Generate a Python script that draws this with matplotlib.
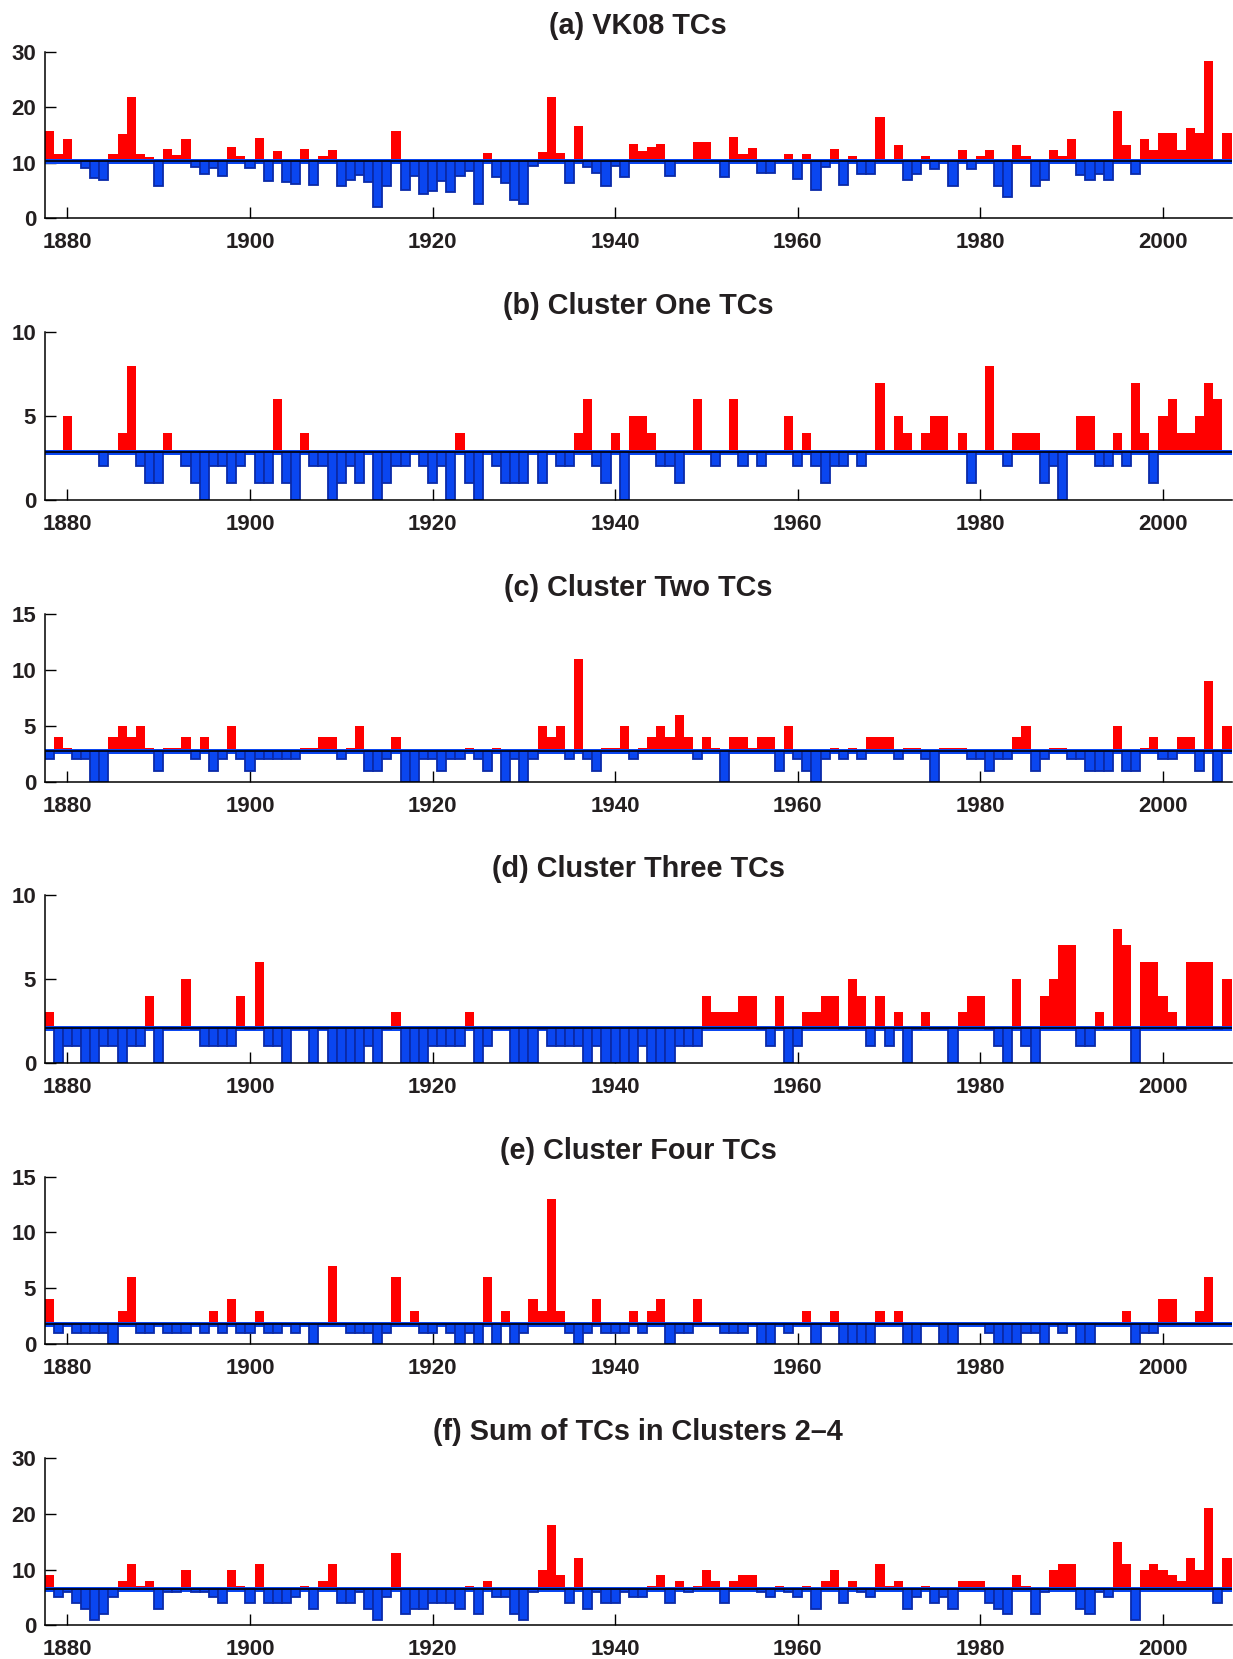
import matplotlib
matplotlib.use("Agg")
import matplotlib.pyplot as plt
import numpy as np

years = np.arange(1878, 2008)

# (a) VK08 adjusted counts
vk08 = [15.7, 11.5, 14.3, 10.3, 9.1, 7.3, 6.9, 11.5, 15.1, 21.8,
        11.5, 11.0, 5.8, 12.5, 11.4, 14.3, 9.3, 8.0, 9.0, 7.7,
        12.8, 11.2, 9.1, 14.5, 6.8, 12.2, 6.5, 6.1, 12.5, 6.0,
        11.3, 12.3, 5.8, 6.9, 7.8, 6.5, 2.1, 5.9, 15.7, 5.1,
        7.6, 4.4, 4.9, 6.8, 4.7, 7.6, 8.5, 2.6, 11.7, 7.5,
        6.4, 3.3, 2.5, 9.4, 11.9, 21.8, 11.7, 6.4, 16.6, 9.3,
        8.2, 5.9,
        9.4, 7.4, 13.3, 12.2, 12.8, 13.3, 7.7, 10.3, 10.3, 13.8,
        13.7, 10.3, 7.4, 14.6, 11.6, 12.6, 8.1, 8.1, 10.3, 11.5,
        7.1, 11.5, 5.1, 9.2, 12.4, 6.0, 11.2, 7.9, 7.9, 18.3,
        10.3, 13.2, 6.9, 8.0, 11.2, 8.9, 10.3, 5.9, 12.3, 8.9,
        11.2, 12.3, 5.9, 3.9, 13.2, 11.2, 5.9, 6.9, 12.3, 11.2,
        14.2, 7.8, 6.9, 8.0, 6.9, 19.3, 13.2, 8.0, 14.2, 12.3,
        15.3, 15.3, 12.3, 16.3, 15.3, 28.3, 10.3, 15.3]

cluster1 = [3, 3, 5, 3, 3, 3, 2, 3, 4, 8,
            2, 1, 1, 4, 3, 2, 1, 0, 2, 2,
            1, 2, 3, 1, 1, 6, 1, 0, 4, 2,
            2, 0, 1, 2, 1, 3, 0, 1, 2, 2,
            3, 2, 1, 2, 0, 4, 1, 0, 3, 2,
            1, 1, 1, 3, 1, 3, 2, 2, 4, 6,
            2, 1,
            4, 0, 5, 5, 4, 2, 2, 1, 3, 6,
            3, 2, 3, 6, 2, 3, 2, 3, 3, 5,
            2, 4, 2, 1, 2, 2, 3, 2, 3, 7,
            3, 5, 4, 3, 4, 5, 5, 3, 4, 1,
            3, 8, 3, 2, 4, 4, 4, 1, 2, 0,
            3, 5, 5, 2, 2, 4, 2, 7, 4, 1,
            5, 6, 4, 4, 5, 7, 6, 3]

cluster2 = [2, 4, 3, 2, 2, 0, 0, 4, 5, 4,
            5, 3, 1, 3, 3, 4, 2, 4, 1, 2,
            5, 2, 1, 2, 2, 2, 2, 2, 3, 3,
            4, 4, 2, 3, 5, 1, 1, 2, 4, 0,
            0, 2, 2, 1, 2, 2, 3, 2, 1, 3,
            0, 2, 0, 2, 5, 4, 5, 2, 11, 2,
            1, 3,
            3, 5, 2, 3, 4, 5, 4, 6, 4, 2,
            4, 3, 0, 4, 4, 3, 4, 4, 1, 5,
            2, 1, 0, 2, 3, 2, 3, 2, 4, 4,
            4, 2, 3, 3, 2, 0, 3, 3, 3, 2,
            2, 1, 2, 2, 4, 5, 1, 2, 3, 3,
            2, 2, 1, 1, 1, 5, 1, 1, 3, 4,
            2, 2, 4, 4, 1, 9, 0, 5]

cluster3 = [3, 0, 1, 1, 0, 0, 1, 1, 0, 1,
            1, 4, 0, 2, 2, 5, 2, 1, 1, 1,
            1, 4, 2, 6, 1, 1, 0, 2, 2, 0,
            2, 0, 0, 0, 0, 1, 0, 2, 3, 0,
            0, 0, 1, 1, 1, 1, 3, 0, 1, 2,
            2, 0, 0, 0, 2, 1, 1, 1, 1, 0,
            1, 0,
            0, 0, 0, 1, 0, 0, 0, 1, 1, 1,
            4, 3, 3, 3, 4, 4, 2, 1, 4, 0,
            1, 3, 3, 4, 4, 2, 5, 4, 1, 4,
            1, 3, 0, 2, 3, 2, 2, 0, 3, 4,
            4, 2, 1, 0, 5, 1, 0, 4, 5, 7,
            7, 1, 1, 3, 2, 8, 7, 0, 6, 6,
            4, 3, 2, 6, 6, 6, 2, 5]

cluster4 = [4, 1, 2, 1, 1, 1, 1, 0, 3, 6,
            1, 1, 2, 1, 1, 1, 2, 1, 3, 1,
            4, 1, 1, 3, 1, 1, 2, 1, 2, 0,
            2, 7, 2, 1, 1, 1, 0, 1, 6, 2,
            3, 1, 1, 2, 1, 0, 1, 0, 6, 0,
            3, 0, 1, 4, 3, 13, 3, 1, 0, 1,
            4, 1,
            1, 1, 3, 1, 3, 4, 0, 1, 1, 4,
            2, 2, 1, 1, 1, 2, 0, 0, 2, 1,
            2, 3, 0, 2, 3, 0, 0, 0, 0, 3,
            2, 3, 0, 0, 2, 2, 0, 0, 2, 2,
            2, 1, 0, 0, 0, 1, 1, 0, 2, 1,
            2, 0, 0, 2, 2, 2, 3, 0, 1, 1,
            4, 4, 2, 2, 3, 6, 2, 2]

sum234 = [9, 5, 6, 4, 3, 1, 2, 5, 8, 11,
          7, 8, 3, 6, 6, 10, 6, 6, 5, 4,
          10, 7, 4, 11, 4, 4, 4, 5, 7, 3,
          8, 11, 4, 4, 6, 3, 1, 5, 13, 2,
          3, 3, 4, 4, 4, 3, 7, 2, 8, 5,
          5, 2, 1, 6, 10, 18, 9, 4, 12, 3,
          6, 4,
          4, 6, 5, 5, 7, 9, 4, 8, 6, 7,
          10, 8, 4, 8, 9, 9, 6, 5, 7, 6,
          5, 7, 3, 8, 10, 4, 8, 6, 5, 11,
          7, 8, 3, 5, 7, 4, 5, 3, 8, 8,
          8, 4, 3, 2, 9, 7, 2, 6, 10, 11,
          11, 3, 2, 6, 5, 15, 11, 1, 10, 11,
          10, 9, 8, 12, 10, 21, 4, 12]

titles = ["(a) VK08 TCs", "(b) Cluster One TCs", "(c) Cluster Two TCs",
          "(d) Cluster Three TCs", "(e) Cluster Four TCs",
          "(f) Sum of TCs in Clusters 2\u20134"]
series = [vk08, cluster1, cluster2, cluster3, cluster4, sum234]
means = [10.3, 2.85, 2.75, 2.05, 1.75, 6.55]
ymax = [30, 10, 15, 10, 15, 30]
yticks = [[0, 10, 20, 30], [0, 5, 10], [0, 5, 10, 15],
          [0, 5, 10], [0, 5, 10, 15], [0, 10, 20, 30]]

plt.rcParams['font.family'] = ['Liberation Sans', 'DejaVu Sans']
plt.rcParams['font.weight'] = 'bold'

fig = plt.figure(figsize=(12.33, 16.59), dpi=100)

# axes rectangles in pixels (top, bottom)
W, H = 1233, 1659
rows = [(51.7, 218.3), (332.3, 500.0), (614.0, 781.7),
        (895.0, 1062.7), (1176.7, 1344.0), (1458.0, 1625.3)]
x0, x1 = 44.5, 1231.5

red = '#ff0000'
blue_face = '#0a46f0'
blue_edge = '#0a2aa8'
txt = '#231f20'

for i, (vals, m) in enumerate(zip(series, means)):
    top, bot = rows[i]
    ax = fig.add_axes([x0 / W, 1 - bot / H, (x1 - x0) / W, (bot - top) / H])
    v = np.array(vals, dtype=float)

    # positive anomalies in red, negative in blue, both from the mean
    ax.bar(years, np.maximum(v - m, 0), bottom=m, width=1.0,
           color=red, edgecolor='none', zorder=2)
    ax.axhline(m, color=blue_face, lw=3.6, zorder=3)
    ax.bar(years, np.minimum(v - m, 0), bottom=m, width=1.0,
           color=blue_face, edgecolor=blue_edge, linewidth=1.3, zorder=4)
    ax.axhline(m, color='black', lw=1.1, zorder=5)

    ax.set_xlim(1877.5, 2007.5)
    ax.set_ylim(0, ymax[i])
    ax.set_yticks(yticks[i])
    ax.set_xticks(np.arange(1880, 2001, 20))

    for s in ['top', 'right']:
        ax.spines[s].set_visible(False)
    for s in ['left', 'bottom']:
        ax.spines[s].set_linewidth(1.1)
        ax.spines[s].set_zorder(6)

    ax.tick_params(axis='both', direction='in', length=8, width=1.0,
                   labelsize=16, labelcolor=txt)
    ax.tick_params(axis='x', pad=10)
    ax.tick_params(axis='y', pad=6)
    for lab in ax.get_xticklabels() + ax.get_yticklabels():
        lab.set_fontweight('bold')

    ax.set_title(titles[i], fontsize=20.8, fontweight='bold', color=txt, pad=13)

fig.savefig('out.png', dpi=100)
plt.close(fig)
